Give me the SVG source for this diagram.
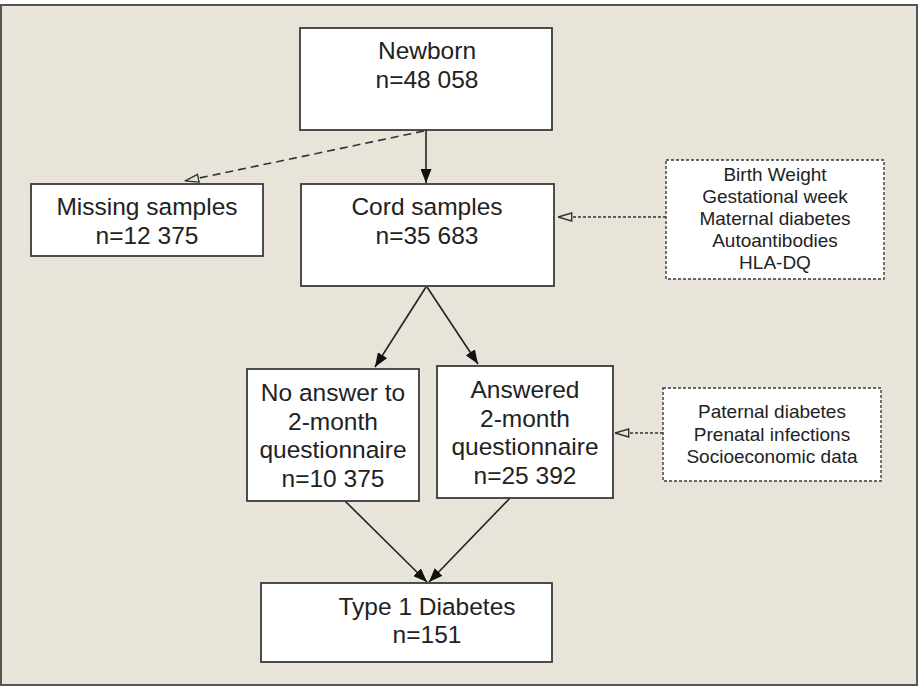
<svg xmlns="http://www.w3.org/2000/svg" width="919" height="687" viewBox="0 0 919 687">
  <style>
    .frame { fill: #e8e4da; stroke: #555; stroke-width: 2; }
    .box { fill: #fff; stroke: #3a3a3a; stroke-width: 1.8; }
    .note { fill: #fff; stroke: #3a3a3a; stroke-width: 1.4; stroke-dasharray: 3 2; }
    .t { font-family: "Liberation Sans", Arial, sans-serif; font-size: 24.5px; fill: #222; text-anchor: middle; }
    .s { font-family: "Liberation Sans", Arial, sans-serif; font-size: 19px; fill: #222; text-anchor: middle; }
    .solid { stroke: #222; stroke-width: 1.6; fill: none; marker-end: url(#filled); }
    .dash { stroke: #333; stroke-width: 1.6; fill: none; stroke-dasharray: 8 5; marker-end: url(#open); }
    .dot { stroke: #333; stroke-width: 1.6; fill: none; stroke-dasharray: 3 2; marker-end: url(#open); }
  </style>
  <defs>
    <marker id="filled" viewBox="0 0 14 11" refX="14" refY="5.5" markerWidth="14" markerHeight="11" markerUnits="userSpaceOnUse" orient="auto">
      <path d="M0,0 L14,5.5 L0,11 Z" fill="#111"/>
    </marker>
    <marker id="open" viewBox="0 0 15 10" refX="14.5" refY="5" markerWidth="15" markerHeight="10" markerUnits="userSpaceOnUse" orient="auto">
      <path d="M0.8,1 L14.5,5 L0.8,9 Z" fill="#e8e4da" stroke="#333" stroke-width="1.4" stroke-dasharray="none"/>
    </marker>
  </defs>

  <rect class="frame" x="1" y="5" width="916" height="680"/>

  <g id="connectors">
    <line class="solid" x1="426" y1="130" x2="426" y2="183"/>
    <line class="dash" x1="424" y1="131" x2="185" y2="181"/>
    <line class="dot" x1="666" y1="217" x2="558" y2="217"/>
    <line class="solid" x1="426" y1="287" x2="375" y2="367"/>
    <line class="solid" x1="427" y1="287" x2="478" y2="364"/>
    <line class="dot" x1="663" y1="433" x2="615" y2="433"/>
    <line class="solid" x1="345" y1="501" x2="427" y2="582"/>
    <line class="solid" x1="510" y1="498" x2="429" y2="582"/>
  </g>

  <g id="newborn">
    <rect class="box" x="300" y="28" width="252" height="102"/>
    <text class="t" x="427" y="59">Newborn</text>
    <text class="t" x="427" y="88">n=48 058</text>
  </g>

  <g id="missing">
    <rect class="box" x="31" y="184" width="232" height="72"/>
    <text class="t" x="147" y="215">Missing samples</text>
    <text class="t" x="147" y="244">n=12 375</text>
  </g>

  <g id="cord">
    <rect class="box" x="301" y="184" width="253" height="102"/>
    <text class="t" x="427" y="215">Cord samples</text>
    <text class="t" x="427" y="244">n=35 683</text>
  </g>

  <g id="cord-variables">
    <rect class="note" x="666" y="160" width="218" height="119"/>
    <text class="s" x="775" y="181">Birth Weight</text>
    <text class="s" x="775" y="203">Gestational week</text>
    <text class="s" x="775" y="225">Maternal diabetes</text>
    <text class="s" x="775" y="247">Autoantibodies</text>
    <text class="s" x="775" y="269">HLA-DQ</text>
  </g>

  <g id="no-answer">
    <rect class="box" x="247" y="369" width="172" height="132"/>
    <text class="t" x="333" y="401">No answer to</text>
    <text class="t" x="333" y="430">2-month</text>
    <text class="t" x="333" y="458">questionnaire</text>
    <text class="t" x="333" y="487">n=10 375</text>
  </g>

  <g id="answered">
    <rect class="box" x="437" y="366" width="176" height="132"/>
    <text class="t" x="525" y="398">Answered</text>
    <text class="t" x="525" y="427">2-month</text>
    <text class="t" x="525" y="455">questionnaire</text>
    <text class="t" x="525" y="484">n=25 392</text>
  </g>

  <g id="questionnaire-variables">
    <rect class="note" x="663" y="388" width="218" height="93"/>
    <text class="s" x="772" y="418">Paternal diabetes</text>
    <text class="s" x="772" y="441">Prenatal infections</text>
    <text class="s" x="772" y="463">Socioeconomic data</text>
  </g>

  <g id="type1">
    <rect class="box" x="261" y="583" width="291" height="79"/>
    <text class="t" x="427" y="615">Type 1 Diabetes</text>
    <text class="t" x="427" y="643">n=151</text>
  </g>
</svg>
